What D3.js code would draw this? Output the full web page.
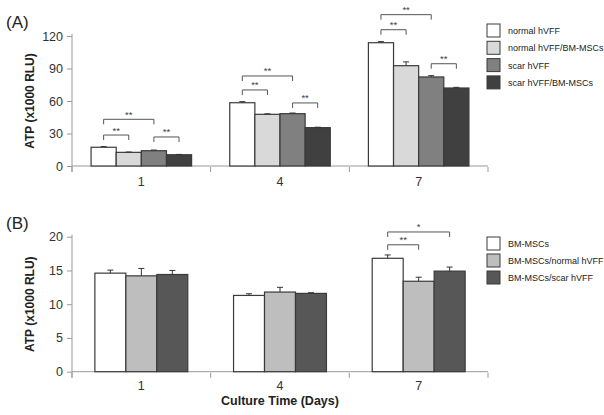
<!DOCTYPE html>
<html><head><meta charset="utf-8">
<script src="https://cdn.jsdelivr.net/npm/d3@7"></script>
<style>body{margin:0;background:#fff}svg{display:block;font-family:Arial,"Liberation Sans",sans-serif}</style>
</head><body><svg id="c" width="604" height="415"></svg>
<script>
// ---- data ----
const days = ["1","4","7"];
const seriesA = ["normal hVFF","normal hVFF/BM-MSCs","scar hVFF","scar hVFF/BM-MSCs"];
const valuesA = [[17.3,12.6,14.1,10.4],[58.4,47.7,48.3,35.4],[113.8,92.6,82.2,72.0]];
const errorsA = [[0.6,0.3,0.6,0.3],[1.0,0.5,0.6,0.4],[1.0,3.5,1.2,0.6]];
const ticksA = [0,30,60,90,120];
// significance: [day, from series, to series, label, bracket height in data units]
const sigA = [
  ["1",0,1,"**",28.6],["1",0,2,"**",43.1],["1",2,3,"**",26.8],
  ["4",0,1,"**",70.2],["4",0,2,"**",83.1],["4",2,3,"**",58.2],
  ["7",0,1,"**",125.8],["7",0,2,"**",139.7],["7",2,3,"**",94.4]
];
const seriesB = ["BM-MSCs","BM-MSCs/normal hVFF","BM-MSCs/scar hVFF"];
const valuesB = [[14.6,14.2,14.4],[11.3,11.8,11.6],[16.8,13.4,14.9]];
const errorsB = [[0.45,1.1,0.6],[0.25,0.7,0.1],[0.5,0.6,0.6]];
const ticksB = [0,5,10,15,20];
const sigB = [["7",0,1,"**",18.8],["7",0,2,"*",20.7]];
const colorsA = ["#ffffff","#d9d9d9","#808080","#404040"];
const colorsB = ["#ffffff","#bebebe","#575757"];

const svg = d3.select("#c");

function panel(o){
  const g = svg.append("g");
  const x = d3.scaleBand().domain(days).range([72,488]).padding(0);
  const y = d3.scaleLinear().domain(o.domain).range([o.bottom,o.top]);
  const groupW = x.bandwidth()*o.frac;
  const xs = d3.scaleBand().domain(d3.range(o.series.length)).range([-groupW/2,groupW/2]).padding(0);
  const cx = (d,i)=> x(d)+x.bandwidth()/2 + xs(i) + xs.bandwidth()/2;

  // axes
  const ya = d3.axisLeft(y).tickValues(o.ticks).tickSize(5).tickPadding(4);
  const yg = g.append("g").attr("transform","translate(72,0)").call(ya);
  yg.select(".domain").attr("d",`M0,${o.top-2}V${o.bottom+6}`);
  const xa = d3.axisBottom(x).tickSize(0).tickPadding(o.xPad);
  const xg = g.append("g").attr("transform",`translate(0,${o.bottom})`).call(xa);
  xg.select(".domain").attr("d","M72,0H488");
  [72,...days.slice(1).map(d=>x(d)),488].forEach(v=>{
    xg.append("line").attr("x1",v).attr("x2",v).attr("y1",1).attr("y2",6).attr("stroke","#999");
  });
  g.selectAll(".domain").attr("stroke","#999");
  g.selectAll(".tick line").attr("stroke","#999");
  g.selectAll(".tick text").attr("font-size",12.5).attr("fill","#333").attr("font-family","Arial, Liberation Sans");

  // bars
  days.forEach((d,di)=>{
    o.values[di].forEach((v,si)=>{
      const bx = x(d)+x.bandwidth()/2 + xs(si);
      g.append("rect").attr("x",bx).attr("y",y(v)).attr("width",xs.bandwidth()).attr("height",y(0)-y(v))
        .attr("fill",o.colors[si]).attr("stroke","#3a3a3a").attr("stroke-width",1.2);
      const e = o.errors[di][si];
      const c = cx(d,si);
      g.append("line").attr("x1",c).attr("x2",c).attr("y1",y(v)).attr("y2",y(v+e)).attr("stroke","#333");
      g.append("line").attr("x1",c-3).attr("x2",c+3).attr("y1",y(v+e)).attr("y2",y(v+e)).attr("stroke","#333");
    });
  });

  // significance brackets
  o.sig.forEach(([d,a,b,lab,h])=>{
    const yy = y(h);
    const x1 = cx(d,a), x2 = cx(d,b);
    g.append("path").attr("d",`M${x1},${yy+5}V${yy}H${x2}V${yy+5}`).attr("fill","none").attr("stroke","#555").attr("stroke-width",1);
    g.append("text").attr("x",(x1+x2)/2).attr("y",yy-1.5).attr("text-anchor","middle").attr("font-size",9.5).attr("fill","#444").text(lab);
  });

  // y label
  g.append("text").attr("transform",`translate(34,${(o.top+o.bottom)/2}) rotate(-90)`).attr("text-anchor","middle")
    .attr("font-size",12).attr("font-weight","bold").attr("fill","#222").text("ATP (x1000 RLU)");
  // panel label
  g.append("text").attr("x",6).attr("y",o.labelY).attr("font-size",17).attr("fill","#222").text(o.label);

  // legend
  o.series.forEach((s,i)=>{
    const ly = o.legendY + i*o.legendStep;
    g.append("rect").attr("x",487).attr("y",ly).attr("width",13).attr("height",13)
      .attr("fill",o.colors[i]).attr("stroke","#3a3a3a").attr("stroke-width",1);
    g.append("text").attr("x",508).attr("y",ly+10).attr("font-size",9).attr("fill","#222").text(s);
  });
}

panel({domain:[0,120],top:36,bottom:166,ticks:ticksA,series:seriesA,values:valuesA,errors:errorsA,colors:colorsA,
  frac:0.725,sig:sigA,label:"(A)",labelY:28,legendY:24,legendStep:17.3,xPad:11});
panel({domain:[0,20],top:236.7,bottom:371.7,ticks:ticksB,series:seriesB,values:valuesB,errors:errorsB,colors:colorsB,
  frac:0.67,sig:sigB,label:"(B)",labelY:229,legendY:237,legendStep:17,xPad:9});

svg.append("text").attr("x",280).attr("y",405).attr("text-anchor","middle").attr("font-size",12.5)
  .attr("font-weight","bold").attr("fill","#222").text("Culture Time (Days)");
</script></body></html>
